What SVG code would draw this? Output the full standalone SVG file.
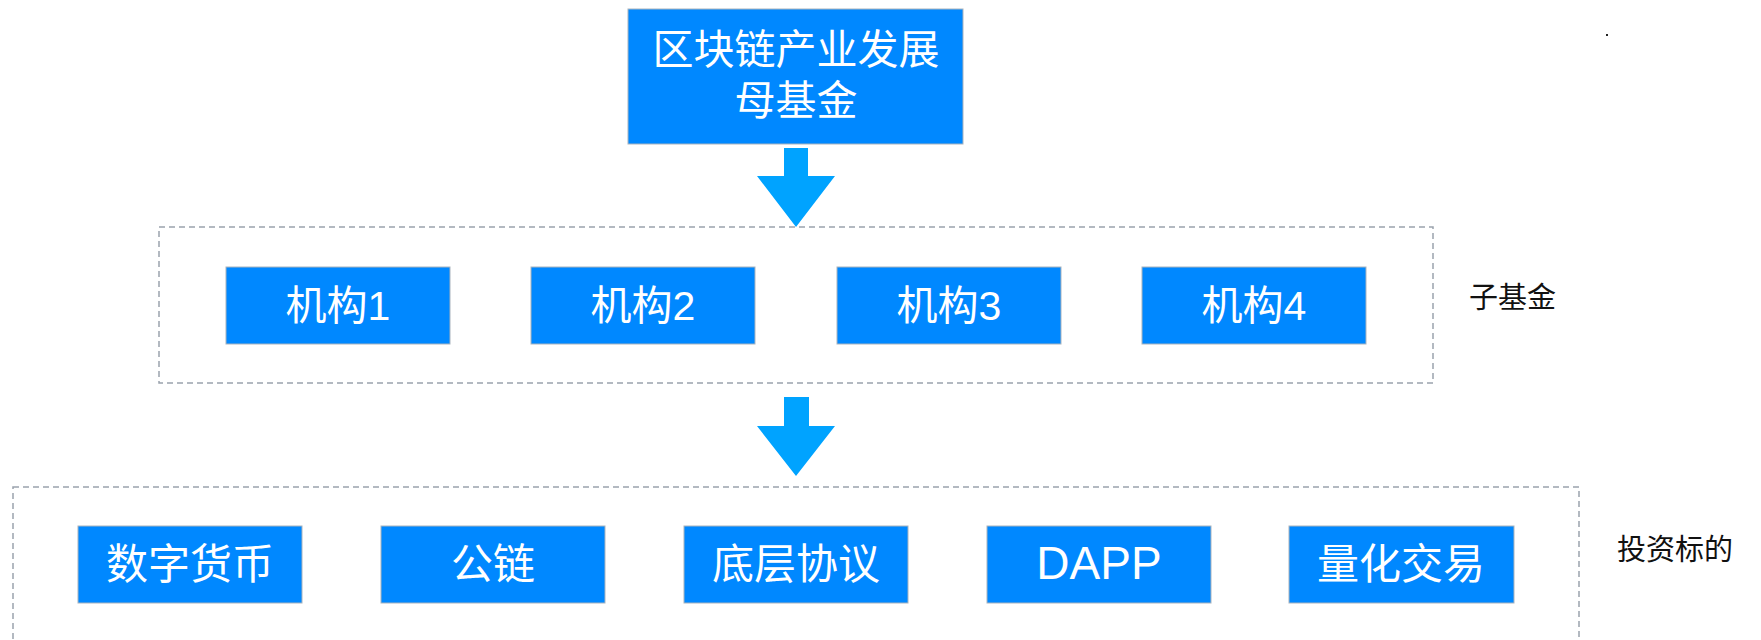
<svg xmlns="http://www.w3.org/2000/svg" width="1761" height="640" viewBox="0 0 1761 640">
<style>
.node{fill:#0088ff;stroke:#a9b3bd;stroke-width:1}
.nt{fill:#ffffff;font-family:"Liberation Sans","Noto Sans CJK SC",sans-serif;text-anchor:middle}
.lbl{fill:#111111;font-family:"Liberation Sans","Noto Sans CJK SC",sans-serif;font-size:29px}
.grp{fill:none;stroke:#9aa3ad;stroke-width:1.5;stroke-dasharray:6 4}
.arrow{fill:#00a3ff}
</style>
<rect width="1761" height="640" fill="#ffffff"/>
<rect x="1606" y="34" width="2" height="2" fill="#222222"/>

<g id="group-sub">
<rect class="grp" x="159" y="227" width="1274" height="156"/>
<text class="lbl" x="1469" y="308">子基金</text>
</g>
<g id="group-target">
<rect class="grp" x="13" y="487" width="1566" height="200" stroke="#8596a8"/>
<text class="lbl" x="1617" y="560">投资标的</text>
</g>

<g id="connectors">
<polygon class="arrow" points="784,148 808,148 808,176 835,176 796,227 757,176 784,176"/>
<polygon class="arrow" points="784,397 809,397 809,426 835,426 796,476 757,426 784,426"/>
</g>

<g id="mother-fund">
<rect class="node" x="628" y="9" width="335" height="135"/>
<text class="nt" x="796" y="64" font-size="41">区块链产业发展</text>
<text class="nt" x="796" y="115" font-size="41">母基金</text>
</g>

<g id="org1"><rect class="node" x="226" y="267" width="224" height="77"/><text class="nt" x="338" y="320" font-size="41">机构1</text></g>
<g id="org2"><rect class="node" x="531" y="267" width="224" height="77"/><text class="nt" x="643" y="320" font-size="41">机构2</text></g>
<g id="org3"><rect class="node" x="837" y="267" width="224" height="77"/><text class="nt" x="949" y="320" font-size="41">机构3</text></g>
<g id="org4"><rect class="node" x="1142" y="267" width="224" height="77"/><text class="nt" x="1254" y="320" font-size="41">机构4</text></g>

<g id="t-digital"><rect class="node" x="78" y="526" width="224" height="77"/><text class="nt" x="190" y="579" font-size="42">数字货币</text></g>
<g id="t-chain"><rect class="node" x="381" y="526" width="224" height="77"/><text class="nt" x="493" y="579" font-size="42">公链</text></g>
<g id="t-protocol"><rect class="node" x="684" y="526" width="224" height="77"/><text class="nt" x="796" y="579" font-size="42">底层协议</text></g>
<g id="t-dapp"><rect class="node" x="987" y="526" width="224" height="77"/><text class="nt" x="1099" y="579" font-size="46">DAPP</text></g>
<g id="t-quant"><rect class="node" x="1289" y="526" width="225" height="77"/><text class="nt" x="1401" y="579" font-size="42">量化交易</text></g>
</svg>
